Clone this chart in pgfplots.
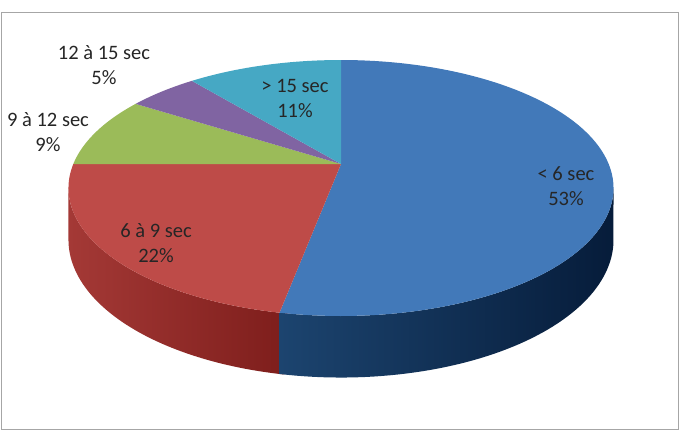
\documentclass[border=0pt]{standalone}
\usepackage{fontspec}
\setmainfont{Carlito}
\usepackage{pgfplots}
\usepackage{pgfplotstable}
\pgfplotsset{compat=1.18}
\definecolor{cblue}{HTML}{4279B9}
\definecolor{cred}{HTML}{BE4B48}
\definecolor{cgreen}{HTML}{9BBB59}
\definecolor{cpurple}{HTML}{8064A2}
\definecolor{ccyan}{HTML}{46A8C4}
\definecolor{bsideL}{HTML}{1C446F}
\definecolor{bsideM}{HTML}{0A2445}
\definecolor{bsideR}{HTML}{061C3A}
\definecolor{rsideL}{HTML}{A43936}
\definecolor{rsideR}{HTML}{7D1D1B}
\definecolor{txt}{HTML}{262626}

\pgfplotstableread{
label value
A 53
B 22
C 9
D 5
E 11
}\piedata

\newcommand\getv[2]{\pgfplotstablegetelem{#1}{value}\of\piedata\global\let#2\pgfplotsretval}

% top face of a slice: angles #1 (low) to #2 (high)
\newcommand\topface[3]{%
  \addplot[fill=#3, draw=none, domain=#1:#2, samples=90, variable=\q]
    ({px(\q)},{py(\q,0)}) -- (axis cs:341,164) -- cycle;}
% side wall of a slice between angles #1 and #2
\newcommand\sidewall[3]{%
  \addplot[#3, draw=none, domain=0:2, samples=121, variable=\q]
    ({px(ifthenelse(\q<=1,(#1)+\q*((#2)-(#1)),(#2)-(\q-1)*((#2)-(#1))))},
     {py(ifthenelse(\q<=1,(#1)+\q*((#2)-(#1)),(#2)-(\q-1)*((#2)-(#1))),ifthenelse(\q<=1,0,50))});}

\begin{document}%
\begin{tikzpicture}
\getv{0}\vA\getv{1}\vB\getv{2}\vC\getv{3}\vD\getv{4}\vE
\pgfmathsetmacro\tA{90-3.6*\vA}
\pgfmathsetmacro\tB{\tA-3.6*\vB}
\pgfmathsetmacro\tC{\tB-3.6*\vC}
\pgfmathsetmacro\tD{\tC-3.6*\vD}
\pgfmathsetmacro\tE{\tD-3.6*\vE}
\pgfmathsetmacro\tAx{\tA+2}
\begin{axis}[
  hide axis, scale only axis,
  width=683bp, height=430bp,
  xmin=0, xmax=683, ymin=0, ymax=430,
  y dir=reverse, clip=false,
  declare function={
    px(\a)=341+267.7*cos(\a)/(1+0.1875*sin(\a));
    py(\a,\b)=164+(\b-123.5*sin(\a))/(1+0.1875*sin(\a));
  },
]
\fill[white] (axis cs:0,0) rectangle (axis cs:683,430);
\draw[black!35, line width=1bp] (axis cs:1.5,12) rectangle (axis cs:678,429);

% side walls
\sidewall{-169.2}{\tAx}{left color=rsideL, right color=rsideR}
\sidewall{\tA}{-10.8}{left color=bsideL, middle color=bsideM, right color=bsideR}

% top faces
\topface{\tA}{90}{cblue}
\topface{\tB}{\tA}{cred}
\topface{\tC}{\tB}{cgreen}
\topface{\tD}{\tC}{cpurple}
\topface{\tE}{\tD}{ccyan}

\begin{scope}[every node/.style={font=\fontsize{20.5bp}{25bp}\selectfont, align=center, text=txt}]
\node at (axis cs:566,186.5) {< 6 sec\\\vA\%};
\node at (axis cs:156,243.5) {6 à 9 sec\\\vB\%};
\node at (axis cs:48,132) {9 à 12 sec\\\vC\%};
\node at (axis cs:104,65) {12 à 15 sec\\\vD\%};
\node at (axis cs:295,98) {> 15 sec\\\vE\%};
\end{scope}
\end{axis}
\end{tikzpicture}%
\end{document}
